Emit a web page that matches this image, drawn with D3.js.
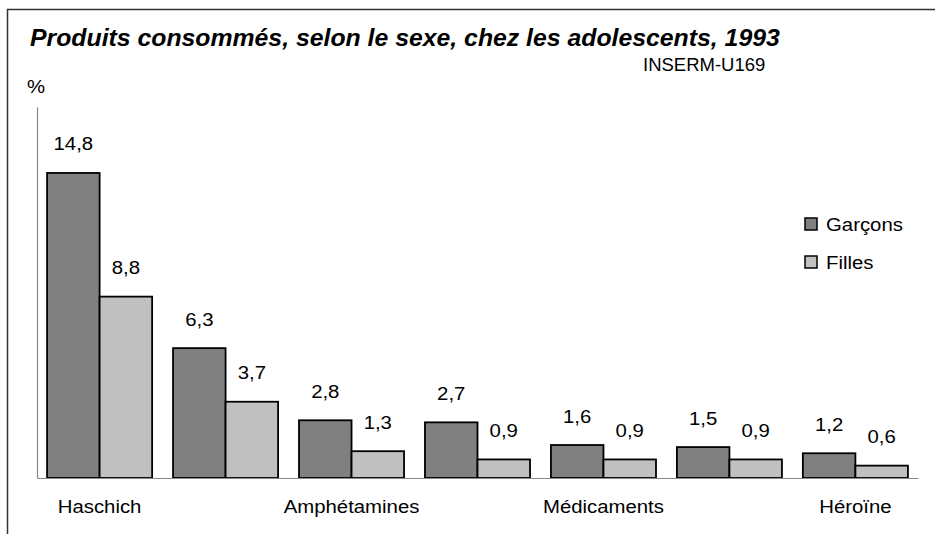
<!DOCTYPE html>
<html>
<head>
<meta charset="utf-8">
<script src="https://cdn.jsdelivr.net/npm/d3@7"></script>
<style>
body { margin: 0; background: #fff; }
svg text { font-family: Arial, "Liberation Sans", sans-serif; fill: #000; }
</style>
</head>
<body>
<div id="chart"></div>
<script>
// data
var categories = ["Haschich", "Solvants", "Amphétamines", "LSD", "Médicaments", "Cocaïne", "Héroïne"];
var garcons = [14.8, 6.3, 2.8, 2.7, 1.6, 1.5, 1.2];
var filles = [8.8, 3.7, 1.3, 0.9, 0.9, 0.9, 0.6];
var seriesNames = ["Garçons", "Filles"];
var seriesColors = ["#808080", "#c0c0c0"];

var svgWidth = 935;
var svgHeight = 534;
var sx = 1.1; // the labels in the picture are a bit wider than plain Arial

var svg = d3.select("#chart")
	.append("svg")
	.attr("width", svgWidth)
	.attr("height", svgHeight);

// frame (top and left edges only)
svg.append("path")
	.attr("d", "M7.5,534V9.5H935")
	.attr("fill", "none")
	.attr("stroke", "#333")
	.attr("stroke-width", 1.5);

var x = d3.scaleBand()
	.domain(categories)
	.range([37, 918])
	.paddingInner(0.166)
	.paddingOuter(0.08);

var x1 = d3.scaleBand()
	.domain(seriesNames)
	.range([0, x.bandwidth()]);

var y = d3.scaleLinear()
	.domain([0, 18])
	.range([478, 107]);

// titles
svg.append("text")
	.attr("x", 30)
	.attr("y", 46)
	.attr("font-size", "24.8px")
	.attr("font-weight", "bold")
	.attr("font-style", "italic")
	.text("Produits consommés, selon le sexe, chez les adolescents, 1993");

svg.append("text")
	.attr("x", 643)
	.attr("y", 71)
	.attr("font-size", "18.5px")
	.text("INSERM-U169");

svg.append("text")
	.attr("transform", "translate(27,93) scale(" + sx + ",1)")
	.attr("font-size", "18.5px")
	.text("%");

// bars
var rows = categories.map(function (c, i) {
	return {cat: c, values: [garcons[i], filles[i]]};
});

var groups = svg.selectAll(".grp")
	.data(rows)
	.enter()
	.append("g")
	.attr("class", "grp")
	.attr("transform", d => `translate(${x(d.cat)},0)`);

groups.selectAll("rect")
	.data(d => d.values.map((v, j) => ({name: seriesNames[j], value: v, color: seriesColors[j]})))
	.enter()
	.append("rect")
	.attr("x", d => x1(d.name))
	.attr("y", d => y(d.value))
	.attr("width", x1.bandwidth())
	.attr("height", d => y(0) - y(d.value))
	.attr("fill", d => d.color)
	.attr("stroke", "#000")
	.attr("stroke-width", 1.8);

groups.selectAll(".val")
	.data(d => d.values.map((v, j) => ({name: seriesNames[j], value: v})))
	.enter()
	.append("text")
	.attr("class", "val")
	.attr("transform", d => `translate(${x1(d.name) + x1.bandwidth() / 2},${y(d.value) - 22.5}) scale(${sx},1)`)
	.attr("text-anchor", "middle")
	.attr("font-size", "18.5px")
	.text(d => d3.format(".1f")(d.value).replace(".", ","));

// axes
var xAxis = svg.append("g")
	.attr("transform", `translate(0,${y(0)})`)
	.call(d3.axisBottom(x)
		.tickSize(0)
		.tickSizeOuter(0)
		.tickFormat((d, i) => i % 2 === 0 ? d : ""));

xAxis.select(".domain").attr("stroke", "#888").attr("stroke-width", 1.2);
xAxis.selectAll("text")
	.attr("y", 35)
	.attr("dy", null)
	.attr("font-size", "18.5px")
	.attr("font-family", null)
	.attr("transform", `scale(${sx},1)`);
xAxis.attr("font-family", null).attr("font-size", null);

var yAxis = svg.append("g")
	.attr("transform", "translate(37,0)")
	.call(d3.axisLeft(y).tickValues([]).tickSizeOuter(0));
yAxis.select(".domain").attr("stroke", "#888").attr("stroke-width", 1.2);

// legend
var legend = svg.selectAll(".leg")
	.data(seriesNames)
	.enter()
	.append("g")
	.attr("class", "leg")
	.attr("transform", (d, i) => `translate(805,${218 + i * 38})`);

legend.append("rect")
	.attr("width", 12)
	.attr("height", 12)
	.attr("fill", (d, i) => seriesColors[i])
	.attr("stroke", "#000")
	.attr("stroke-width", 1.5);

legend.append("text")
	.attr("transform", `translate(21,13) scale(${sx},1)`)
	.attr("font-size", "18.5px")
	.text(d => d);
</script>
</body>
</html>
